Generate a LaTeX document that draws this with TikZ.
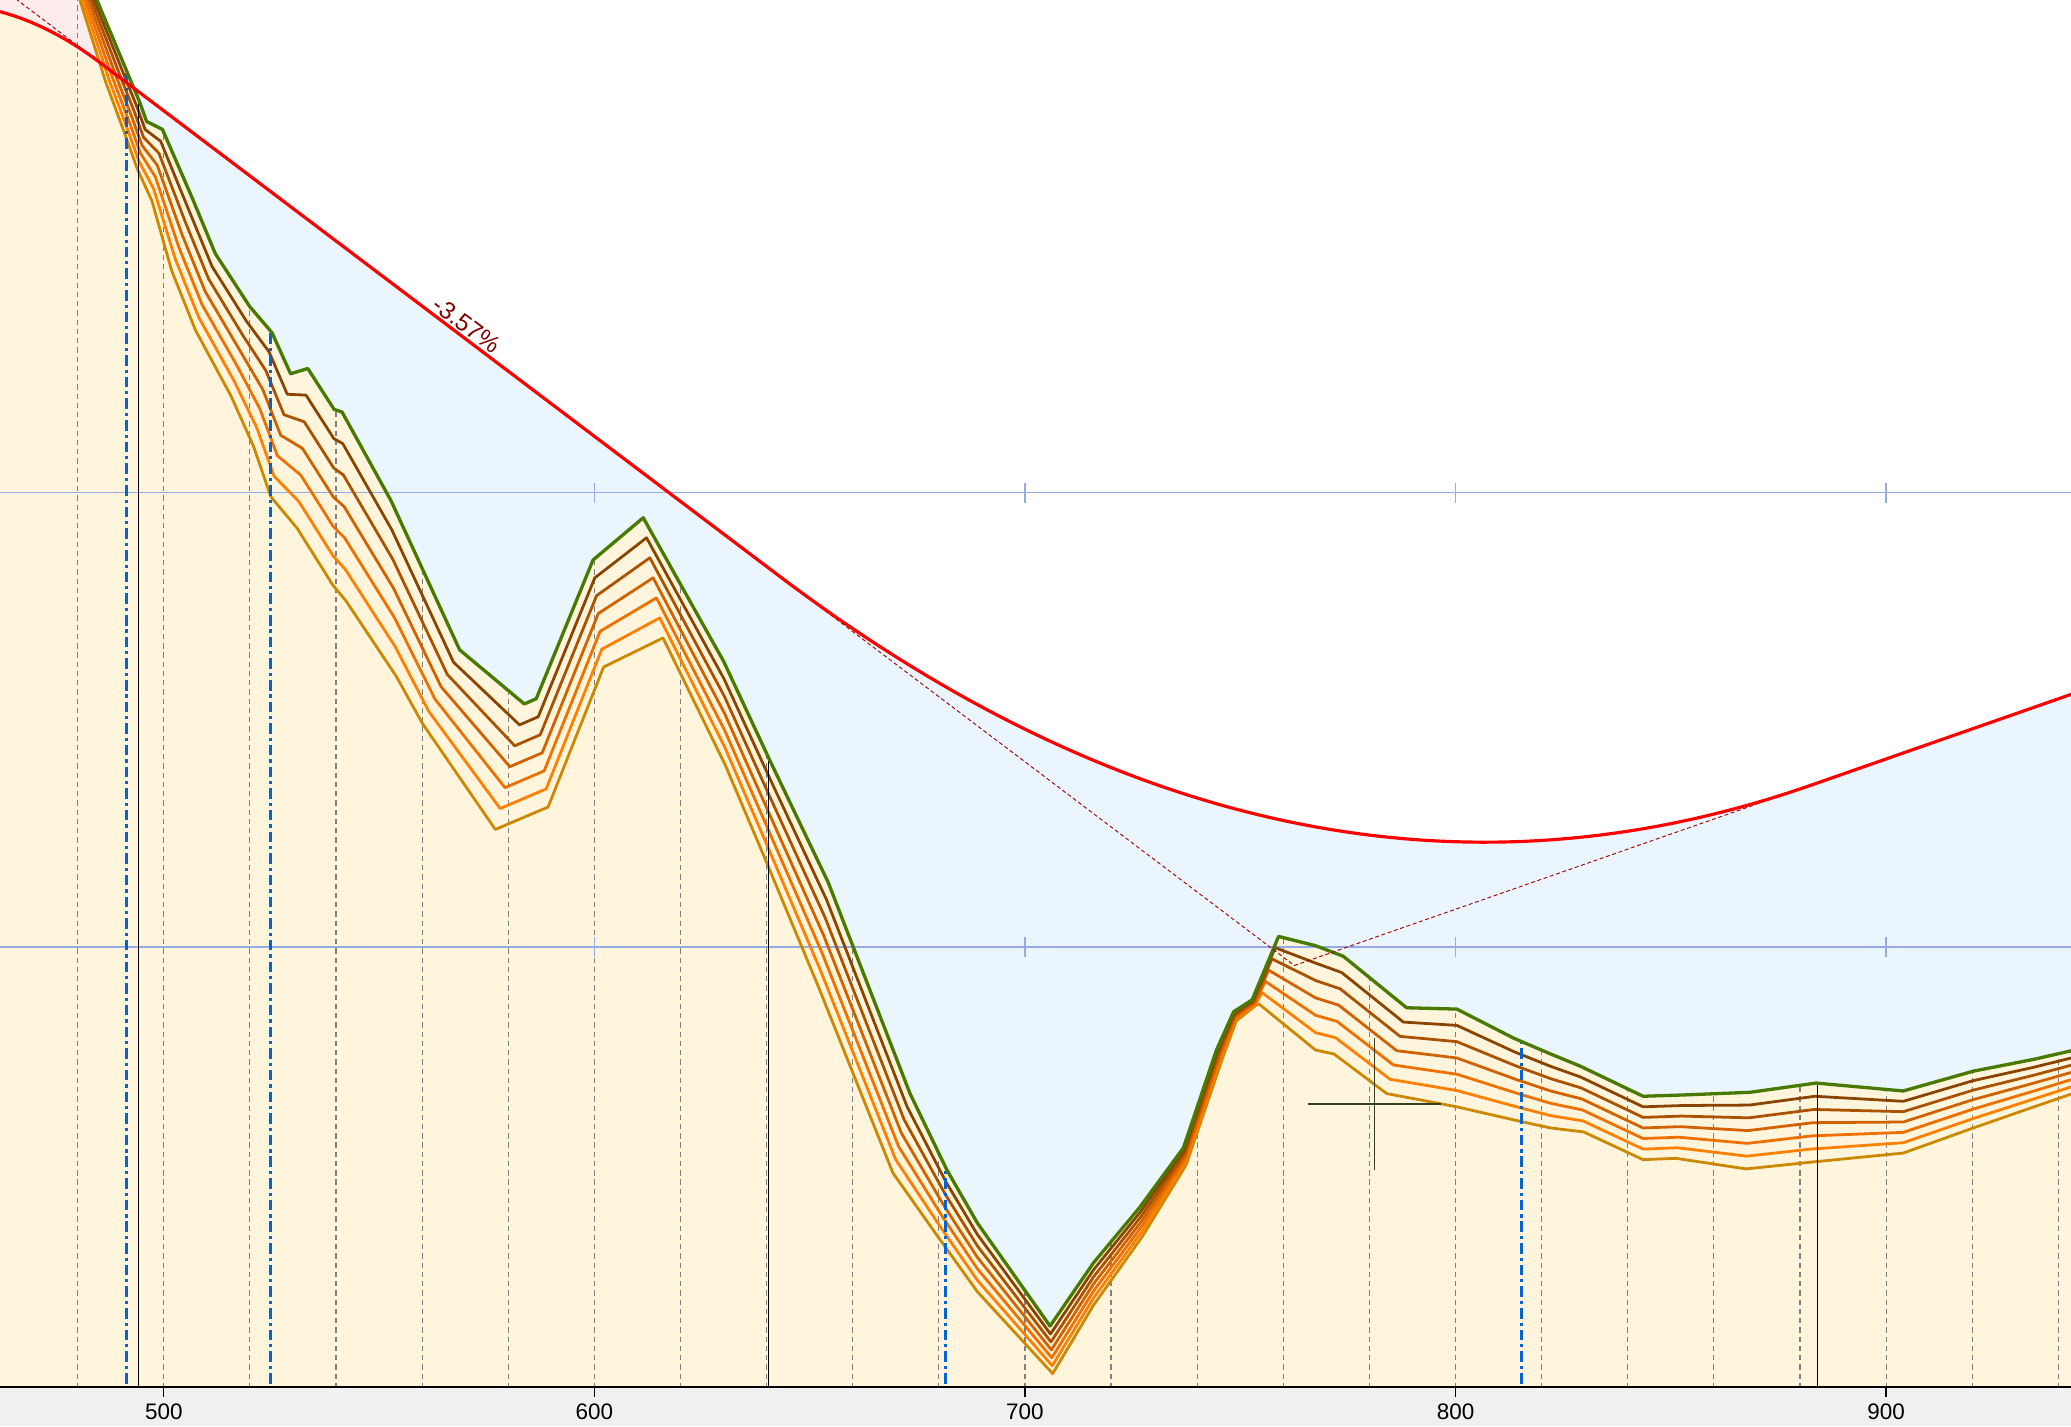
\documentclass[tikz,border=0pt]{standalone}
\usepackage{fontspec}
\setmainfont{Liberation Sans}
\usepackage{tikz}
\definecolor{groundgreen}{RGB}{72,122,0}
\definecolor{lay1}{RGB}{139,68,0}
\definecolor{lay2}{RGB}{170,82,0}
\definecolor{lay3}{RGB}{208,98,0}
\definecolor{lay4}{RGB}{238,112,0}
\definecolor{lay5}{RGB}{255,128,0}
\definecolor{lay6}{RGB}{204,136,0}
\definecolor{soil}{RGB}{255,244,220}
\definecolor{fillblue}{RGB}{234,245,253}
\definecolor{cutpink}{RGB}{253,236,236}
\definecolor{gridblue}{RGB}{150,170,230}
\definecolor{stnblue}{RGB}{0,100,215}
\definecolor{pvired}{RGB}{160,0,0}
\definecolor{gradelabel}{RGB}{128,0,0}
\definecolor{band}{RGB}{240,240,240}
\definecolor{crossclr}{RGB}{50,64,30}

% ground x/y and lowest layer x/y
\def\terrain{70/-8/58/-8, 96/54/80/62, 106/78/94/100, 111/92/104/128, 123/98/115/152,
  146/151/130/205, 163/192/148/250, 189/232/175/300, 206/252/192/338, 220/283/205/376,
  233/279/225/400, 253/310/252/443, 259/312/262/455, 296/379/300/512, 348/492/320/548,
  397/533/375/628, 406/529/415/611, 449/424/457/505, 487/392/502/483, 548/501/549/579,
  583/576/580/652, 627/668/620/748, 689/828/676/888, 717/886/712/939, 740/926/740/978,
  795/1004/797/1040, 828/956/828/988, 863/914/865/936, 896/869/898/882, 921/795/926/800,
  934/766/936/773, 948/757/951/761, 968/709/953/760, 996/716/996/795, 1017/724/1010/798,
  1065/763/1050/828, 1103/764/1103/838, 1146/786/1151/849, 1174/798/1174/854, 1196/807/1199/857,
  1244/830/1244/878, 1275/829/1269/877, 1325/827/1322/885, 1375/820/1370/880, 1441/826/1441/873,
  1494/811/1494/854, 1540/802/1540/838, 1575/794/1575/826}
\newcommand\gradepath{plot[domain=0:76,samples=15] (\x,{47.6+0.756*(\x-76)+0.00324*(\x-76)^2})
  -- (589,435.4) -- plot[domain=589:1371,samples=70] (\x,{435.4+0.756*(\x-589)-7.065*((\x-589)/100)^2})
  -- (1575,523.3)}
\newcommand\belowground{(-10,1060) -- (-10,-8) \foreach \a/\b/\c/\d in \terrain { -- (\a,\b) } -- (1580,1060) -- cycle}

\begin{document}
\begin{tikzpicture}[x=0.5pt, y=-0.5pt,
    ground/.style={groundgreen, line width=1.25pt, line join=round},
    layer/.style={line width=1.05pt, line join=round},
    grade/.style={red, line width=1.2pt},
    tangent/.style={pvired, line width=0.35pt, dash pattern=on 1.5pt off 1pt},
    station/.style={gray, line width=0.45pt, dash pattern=on 2pt off 1.5pt},
    keystn/.style={stnblue, line width=1.2pt, dash pattern=on 4pt off 1.5pt on 1.2pt off 1.5pt},
    gridline/.style={gridblue, line width=0.5pt},
    lbl/.style={font=\fontsize{8.5}{10}\selectfont, inner sep=1pt}]
  \useasboundingbox (0,0) rectangle (1568,1080);
  \fill[band] (0,1050) rectangle (1568,1080);
  \begin{scope}
    \clip (0,0) rectangle (1568,1050);
    \fill[white] (0,0) rectangle (1568,1050);
    % soil and cut
    \begin{scope}
      \clip \belowground;
      \fill[soil] (-10,-20) rectangle (1580,1060);
      \fill[cutpink] \gradepath -- (1575,-20) -- (0,-20) -- cycle;
      \foreach \s in {480,500,...,940}
        \draw[station] ({124+(\s-500)*3.26},-10) -- ++(0,1070);
    \end{scope}
    % fill
    \begin{scope}
      \clip (-10,-8) \foreach \a/\b/\c/\d in \terrain { -- (\a,\b) } -- (1580,-30) -- (-10,-30) -- cycle;
      \fill[fillblue] \gradepath -- (1575,1060) -- (0,1060) -- cycle;
    \end{scope}
    \foreach \h in {373,717} {
      \draw[gridline] (0,\h) -- (1568,\h);
      \foreach \t in {450,776,1102,1428}
        \draw[gridline] (\t,{\h-7.5}) -- (\t,{\h+7.5});
    }
    % layers
    \foreach \k in {6,5,4,3,2,1}
      \draw[layer, color=lay\k] ({70-2*\k},-8) \foreach \a/\b/\c/\d in \terrain { -- ({\a+\k*(\c-\a)/6},{\b+\k*(\d-\b)/6}) };
    \begin{scope}
      \clip \belowground;
      \foreach \v in {104.7,582,1376}
        \draw[black, line width=0.5pt] (\v,-10) -- (\v,1060);
      \foreach \v in {95.5,205,716,1152}
        \draw[keystn] (\v,-10) -- (\v,1060);
    \end{scope}
    \draw[ground] (70,-8) \foreach \a/\b/\c/\d in \terrain { -- (\a,\b) };
    % vertical curves
    \draw[tangent] (0,-9.9) -- (76,47.6);
    \draw[tangent] (589,435.4) -- (980,731) -- (1371,594.5);
    \draw[grade] \gradepath;
    \node[lbl, font=\fontsize{9.2}{11}\selectfont, text=gradelabel, rotate=-37.1, anchor=south] (grade) at (348,253) {-3.57\%};
    \draw[crossclr, line width=0.6pt] (990,836) -- (1091,836) (1040.5,786) -- (1040.5,886);
  \end{scope}
  % axis
  \draw[line width=0.6pt] (0,1050) -- (1568,1050);
  \foreach \s in {500,600,...,900} {
    \draw[line width=0.5pt] ({124+(\s-500)*3.26},1050) -- ++(0,8);
    \node[lbl] (st\s) at ({124+(\s-500)*3.26},1069) {\s};
  }
\end{tikzpicture}
\end{document}
